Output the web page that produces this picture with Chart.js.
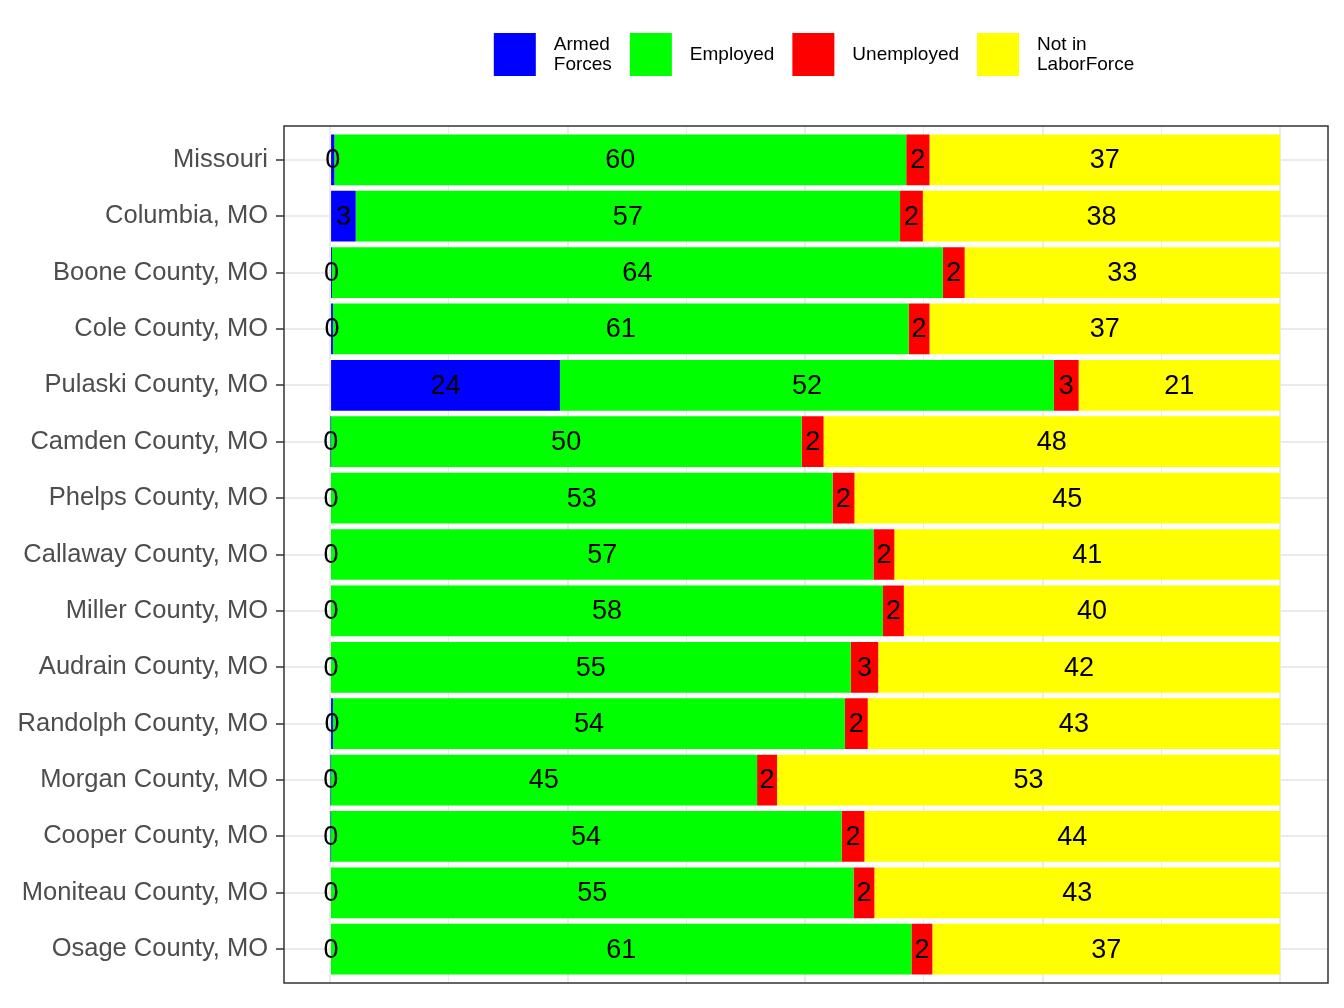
<!DOCTYPE html>
<html lang="en">
<head>
<meta charset="utf-8">
<title>Labor force status by county</title>
<script src="https://cdn.jsdelivr.net/npm/chart.js@4.4.1/dist/chart.umd.min.js"></script>
<style>
  html, body { margin: 0; padding: 0; background: #ffffff; }
  #contenedor { position: relative; width: 1344px; height: 1008px; }
</style>
</head>
<body>
<div id="contenedor"><canvas id="grafico"></canvas></div>
<script>
const categories = [
    'Missouri', 'Columbia, MO', 'Boone County, MO', 'Cole County, MO', 'Pulaski County, MO',
    'Camden County, MO', 'Phelps County, MO', 'Callaway County, MO', 'Miller County, MO',
    'Audrain County, MO', 'Randolph County, MO', 'Morgan County, MO', 'Cooper County, MO',
    'Moniteau County, MO', 'Osage County, MO'
];

// percent of population 16+
const armedForces     = [0.45, 2.7, 0.2, 0.3, 24.2, 0.05, 0.1, 0.1, 0.1, 0.1, 0.3, 0.05, 0.05, 0.1, 0.1];
const employed        = [60.2, 57.3, 64.3, 60.6, 52.0, 49.6, 52.8, 57.1, 58.1, 54.7, 53.9, 44.9, 53.8, 55.0, 61.1];
const unemployed      = [2.45, 2.4, 2.3, 2.2, 2.6, 2.3, 2.3, 2.2, 2.2, 2.9, 2.4, 2.1, 2.4, 2.2, 2.2];
const notInLaborForce = [36.9, 37.6, 33.2, 36.9, 21.2, 48.05, 44.8, 40.6, 39.6, 42.3, 43.4, 52.95, 43.75, 42.7, 36.6];

const seriesNames  = ['Armed Forces', 'Employed', 'Unemployed', 'Not in LaborForce'];
const legendLines  = [['Armed', 'Forces'], ['Employed'], ['Unemployed'], ['Not in', 'LaborForce']];
const seriesColors = ['#0000ff', '#00ff00', '#ff0000', '#ffff00'];
const xTicks       = [0, 12.5, 25, 37.5, 50, 62.5, 75, 87.5, 100];

const FUENTE = '"Liberation Sans", Arial, Helvetica, sans-serif';

const etiquetasBarras = {
    id: 'etiquetasBarras',
    afterDatasetsDraw(chart) {
        const ctx = chart.ctx;
        ctx.save();
        ctx.font = `27px ${FUENTE}`;
        ctx.fillStyle = '#000000';
        ctx.textAlign = 'center';
        ctx.textBaseline = 'middle';
        chart.data.datasets.forEach((ds, i) => {
            chart.getDatasetMeta(i).data.forEach((barra, j) => {
                const { x, base, y } = barra.getProps(['x', 'base', 'y'], true);
                ctx.fillText(String(Math.round(ds.data[j].x)), (x + base) / 2, y + 1);
            });
        });
        ctx.restore();
    }
};

const bordePanel = {
    id: 'bordePanel',
    afterDraw(chart) {
        const { ctx, chartArea: a } = chart;
        ctx.save();
        ctx.strokeStyle = '#333333';
        ctx.lineWidth = 1.5;
        ctx.strokeRect(a.left, a.top, a.right - a.left, a.bottom - a.top);
        ctx.restore();
    }
};

const leyenda = {
    id: 'leyenda',
    afterDraw(chart) {
        const ctx = chart.ctx;
        const caja = 42, altoCaja = 43, hueco = 18, topCaja = 33, centro = 55;
        ctx.save();
        ctx.font = `19px ${FUENTE}`;
        const anchos = legendLines.map(l => Math.max(...l.map(t => ctx.measureText(t).width)));
        const total = anchos.reduce((s, w) => s + caja + hueco + w, 0) + hueco * (anchos.length - 1);
        let x = 814 - total / 2;
        ctx.textAlign = 'left';
        ctx.textBaseline = 'middle';
        legendLines.forEach((lineas, i) => {
            ctx.fillStyle = seriesColors[i];
            ctx.fillRect(x, topCaja, caja, altoCaja);
            ctx.fillStyle = '#000000';
            lineas.forEach((t, k) => {
                ctx.fillText(t, x + caja + hueco, centro + (k - (lineas.length - 1) / 2) * 20.5);
            });
            x += caja + hueco + anchos[i] + hueco;
        });
        ctx.restore();
    }
};

function armarDatasets() {
    const series = [armedForces, employed, unemployed, notInLaborForce];
    return series.map((valores, i) => ({
        label: seriesNames[i],
        data: valores.map((v, j) => ({ x: v, y: j })),
        backgroundColor: seriesColors[i],
        borderWidth: 0,
        barPercentage: 0.9,
        categoryPercentage: 1.0
    }));
}

function dibujarGrafico() {
    new Chart(document.getElementById('grafico'), {
        type: 'bar',
        data: { datasets: armarDatasets() },
        plugins: [etiquetasBarras, bordePanel, leyenda],
        options: {
            indexAxis: 'y',
            responsive: true,
            maintainAspectRatio: false,
            animation: false,
            layout: { padding: { top: 126, right: 16, bottom: 25, left: 0 } },
            plugins: {
                legend: { display: false },
                tooltip: { enabled: false }
            },
            scales: {
                x: {
                    type: 'linear',
                    min: -4.85,
                    max: 105.05,
                    stacked: true,
                    afterBuildTicks: s => { s.ticks = xTicks.map(v => ({ value: v })); },
                    afterFit: s => { s.height = 0; },
                    ticks: { display: false },
                    grid: {
                        color: '#ebebeb',
                        lineWidth: c => (c.tick && c.tick.value % 25 === 0 ? 2 : 1),
                        drawTicks: false
                    },
                    border: { display: false }
                },
                y: {
                    type: 'linear',
                    reverse: true,
                    offset: false,
                    min: -0.6,
                    max: categories.length - 0.4,
                    stacked: true,
                    afterBuildTicks: s => { s.ticks = categories.map((c, i) => ({ value: i })); },
                    afterFit: s => { s.width = 284; },
                    ticks: {
                        callback: v => categories[v],
                        autoSkip: false,
                        padding: 8,
                        color: '#4d4d4d',
                        font: { family: FUENTE, size: 25.5 }
                    },
                    grid: {
                        offset: false,
                        color: '#ebebeb',
                        lineWidth: 2,
                        tickColor: '#333333',
                        tickLength: 8,
                        tickWidth: 1.5
                    },
                    border: { display: false }
                }
            }
        }
    });
}

document.addEventListener('DOMContentLoaded', dibujarGrafico);
</script>
</body>
</html>
